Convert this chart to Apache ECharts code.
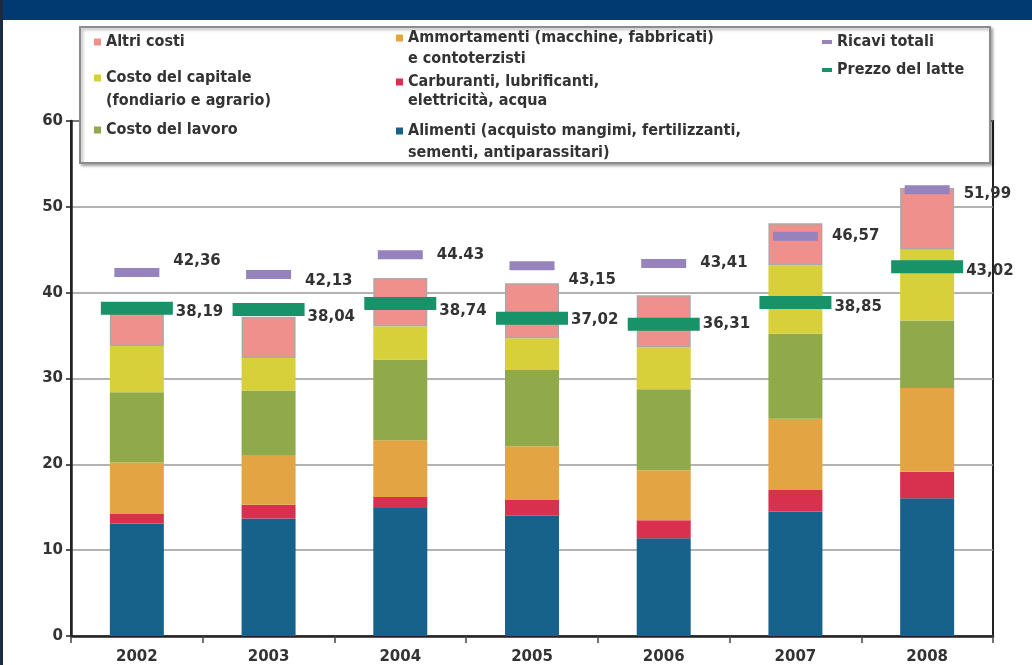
<!DOCTYPE html>
<html>
<head>
<meta charset="utf-8">
<script src="https://cdn.jsdelivr.net/npm/echarts@6/dist/echarts.min.js"></script>
<style>
html,body{margin:0;padding:0;background:#fff;}
#chart{width:1032px;height:665px;}
</style>
</head>
<body>
<div id="chart"></div>
<script>
// ---------- DATA ----------
const years = ['2002', '2003', '2004', '2005', '2006', '2007', '2008'];
const alimenti = [13.1, 13.7, 14.9, 14.0, 11.4, 14.5, 16.05];
const carburanti = [1.1, 1.6, 1.3, 1.9, 2.1, 2.5, 3.1];
const ammortamenti = [6.0, 5.7, 6.6, 6.2, 5.8, 8.3, 9.75];
const lavoro = [8.2, 7.6, 9.4, 8.9, 9.45, 9.9, 7.85];
const capitale = [5.4, 3.8, 3.9, 3.7, 4.85, 8.0, 8.25];
const altri = [3.9, 4.8, 5.6, 6.4, 6.1, 4.9, 7.2];
const ricavi = [42.36, 42.13, 44.43, 43.15, 43.41, 46.57, 51.99];
const prezzo = [38.19, 38.04, 38.74, 37.02, 36.31, 38.85, 43.02];
const ricaviLabels = ['42,36', '42,13', '44.43', '43,15', '43,41', '46,57', '51,99'];
const prezzoLabels = ['38,19', '38,04', '38,74', '37,02', '36,31', '38,85', '43,02'];

// ---------- LAYOUT (label nudges, px) ----------
const ricaviLabelDy = [-11, 7, 0, 14, 0, 0, 4];
const prezzoLabelDy = [4, 8, 8, 2, 0, 5, 4];

const FONT = '"Liberation Sans Narrow", "DejaVu Sans Condensed", sans-serif';
const NUMFONT = '"DejaVu Sans", sans-serif';
const TXT = '#333333';

const C = {
  alimenti: '#17628a',
  carburanti: '#d8304f',
  ammortamenti: '#e3a443',
  lavoro: '#8fa94b',
  capitale: '#d8d03a',
  altri: '#f0908c',
  ricavi: '#9683be',
  prezzo: '#179269'
};

const N = {
  altri: 'Altri costi',
  capitale: 'Costo del capitale',
  lavoro: 'Costo del lavoro',
  ammortamenti: 'Ammortamenti (macchine, fabbricati)',
  carburanti: 'Carburanti, lubrificanti,',
  alimenti: 'Alimenti (acquisto mangimi, fertilizzanti,',
  ricavi: 'Ricavi totali',
  prezzo: 'Prezzo del latte'
};

function barSeries(name, data, color, extra) {
  return Object.assign({
    name: name, type: 'bar', stack: 'costi', data: data, barWidth: 54,
    itemStyle: { color: color }, z: 2
  }, extra || {});
}

const legendSpec = [
  { name: N.altri, left: 94, top: 33, w: 7, h: 7 },
  { name: N.capitale, left: 94, top: 69, w: 7, h: 7 },
  { name: N.lavoro, left: 94, top: 121, w: 7, h: 7 },
  { name: N.ammortamenti, left: 396, top: 29, w: 7, h: 7 },
  { name: N.carburanti, left: 396, top: 73, w: 7, h: 7 },
  { name: N.alimenti, left: 396, top: 122, w: 7, h: 7 },
  { name: N.ricavi, left: 822, top: 33, w: 10, h: 4 },
  { name: N.prezzo, left: 822, top: 61, w: 10, h: 4 }
];

const legends = legendSpec.map(s => ({
  data: [{ name: s.name, icon: 'rect' }],
  left: s.left, top: s.top, padding: 0,
  itemWidth: s.w, itemHeight: s.h,
  itemStyle: { borderWidth: 0 },
  selectedMode: false, z: 20,
  textStyle: { fontFamily: FONT, fontWeight: 'bold', fontSize: 16, color: TXT, lineHeight: 18 }
}));

const secondLines = [
  { text: '(fondiario e agrario)', x: 106, y: 101 },
  { text: 'e contoterzisti', x: 408, y: 59 },
  { text: 'elettricità, acqua', x: 408, y: 101 },
  { text: 'sementi, antiparassitari)', x: 408, y: 153 }
];

const option = {
  animation: false,
  backgroundColor: '#ffffff',
  grid: {
    left: 71, right: 39, top: 121, bottom: 29,
    show: true, borderColor: '#222', borderWidth: 2, backgroundColor: 'transparent'
  },
  legend: legends,
  xAxis: {
    type: 'category', data: years,
    axisLine: { lineStyle: { color: '#222', width: 2.5 } },
    axisTick: { show: true, length: 7, lineStyle: { color: '#444', width: 1.5 } },
    axisLabel: { fontFamily: NUMFONT, fontWeight: 'bold', fontSize: 15, color: TXT, margin: 14 }
  },
  yAxis: {
    type: 'value', min: 0, max: 60, interval: 10,
    axisLine: { show: true, lineStyle: { color: '#222', width: 2.5 } },
    axisTick: { show: true, length: 5, lineStyle: { color: '#222', width: 1.5 } },
    splitLine: { show: true, lineStyle: { color: '#9a9a9a', width: 1.5 } },
    axisLabel: { fontFamily: NUMFONT, fontWeight: 'bold', fontSize: 15, color: TXT, margin: 8 }
  },
  series: [
    barSeries(N.alimenti, alimenti, C.alimenti),
    barSeries(N.carburanti, carburanti, C.carburanti),
    barSeries(N.ammortamenti, ammortamenti, C.ammortamenti),
    barSeries(N.lavoro, lavoro, C.lavoro),
    barSeries(N.capitale, capitale, C.capitale),
    barSeries(N.altri, altri, C.altri, { itemStyle: { color: C.altri, borderColor: '#a9a9a9', borderWidth: 1.5 } }),
    {
      name: N.ricavi, type: 'scatter', symbol: 'rect', symbolSize: [45, 9], z: 5,
      itemStyle: { color: C.ricavi, opacity: 1 },
      emphasis: { disabled: true },
      data: ricavi.map((v, i) => ({ value: v, label: { offset: [0, ricaviLabelDy[i]] } })),
      label: {
        show: true, position: 'right', distance: 14,
        formatter: p => ricaviLabels[p.dataIndex],
        fontFamily: NUMFONT, fontWeight: 'bold', fontSize: 15, color: TXT
      }
    },
    {
      name: N.prezzo, type: 'scatter', symbol: 'rect', symbolSize: [72, 13], z: 6,
      itemStyle: { color: C.prezzo, opacity: 1 },
      emphasis: { disabled: true },
      data: prezzo.map((v, i) => ({ value: v, label: { offset: [0, prezzoLabelDy[i]] } })),
      label: {
        show: true, position: 'right', distance: 3,
        formatter: p => prezzoLabels[p.dataIndex],
        fontFamily: NUMFONT, fontWeight: 'bold', fontSize: 15, color: TXT
      }
    }
  ],
  graphic: [
    { type: 'rect', z: 1, shape: { x: 0, y: 0, width: 1032, height: 20 }, style: { fill: '#003a70' } },
    { type: 'rect', z: 1, shape: { x: 0, y: 0, width: 3, height: 665 }, style: { fill: '#1c2c40' } },
    {
      type: 'rect', z: 10, shape: { x: 80, y: 27, width: 910, height: 136 },
      style: { fill: '#ffffff', stroke: '#8c8c8c', lineWidth: 2, shadowBlur: 3, shadowOffsetX: 2, shadowOffsetY: 2, shadowColor: 'rgba(0,0,0,0.3)' }
    }
  ].concat(secondLines.map(s => ({
    type: 'text', z: 20, x: s.x, y: s.y,
    style: { text: s.text, font: 'bold 16px ' + FONT, fill: TXT, verticalAlign: 'middle', align: 'left' }
  })))
};

const chart = echarts.init(document.getElementById('chart'), null, { renderer: 'canvas' });
chart.setOption(option);
</script>
</body>
</html>
